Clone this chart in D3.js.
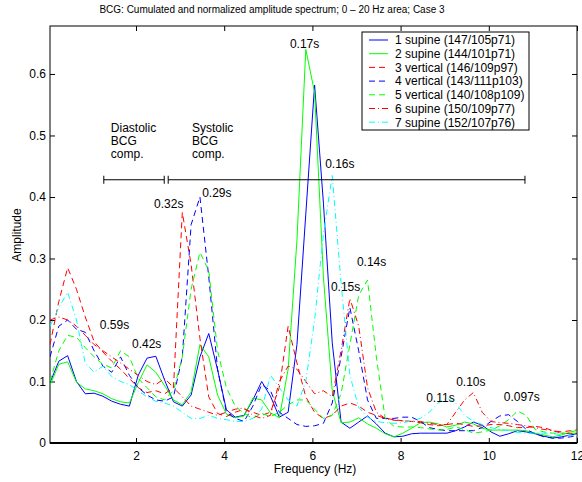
<!DOCTYPE html>
<html>
<head>
<meta charset="utf-8">
<script src="https://cdn.jsdelivr.net/npm/d3@7"></script>
<style>
  body { margin: 0; background: #fff; }
  svg { font-family: "Liberation Sans", Arial, Helvetica, sans-serif; }
  .axis path, .axis line { stroke: #000; }
  .axis text { font-size: 12px; fill: #000; }
</style>
</head>
<body>
<div id="chart"></div>
<script>
// frequency grid (Hz)
const freq = [0.05, 0.25, 0.45, 0.65, 0.85, 1.05, 1.25, 1.45, 1.65, 1.85,
  2.05, 2.25, 2.45, 2.65, 2.85, 3.05, 3.25, 3.45, 3.65, 3.85,
  4.05, 4.25, 4.45, 4.65, 4.85, 5.05, 5.25, 5.45, 5.65, 5.85,
  6.05, 6.25, 6.45, 6.65, 6.85, 7.05, 7.25, 7.45, 7.65, 7.85,
  8.05, 8.25, 8.45, 8.65, 8.85, 9.05, 9.25, 9.45, 9.65, 9.85,
  10.05, 10.25, 10.45, 10.65, 10.85, 11.05, 11.25, 11.45, 11.65, 11.85, 12.05];

const supine1 = [0.098, 0.133, 0.142, 0.10, 0.08, 0.081, 0.076, 0.068, 0.063, 0.06,
  0.11, 0.138, 0.141, 0.102, 0.067, 0.06, 0.078, 0.14, 0.178, 0.119,
  0.054, 0.042, 0.045, 0.07, 0.10, 0.076, 0.042, 0.05, 0.16, 0.372,
  0.582, 0.39, 0.163, 0.034, 0.024, 0.034, 0.044, 0.031, 0.016, 0.01,
  0.011, 0.015, 0.016, 0.016, 0.016, 0.016, 0.02, 0.026, 0.034, 0.029,
  0.018, 0.011, 0.015, 0.02, 0.018, 0.015, 0.011, 0.008, 0.01, 0.013, 0.016];
const supine2 = [0.094, 0.128, 0.132, 0.099, 0.088, 0.085, 0.08, 0.072, 0.067, 0.065,
  0.098, 0.127, 0.115, 0.093, 0.07, 0.062, 0.083, 0.16, 0.14, 0.078,
  0.047, 0.041, 0.044, 0.073, 0.07, 0.049, 0.041, 0.12, 0.33, 0.64,
  0.57, 0.27, 0.085, 0.033, 0.034, 0.041, 0.031, 0.024, 0.015, 0.01,
  0.016, 0.024, 0.033, 0.034, 0.031, 0.026, 0.029, 0.034, 0.031, 0.024,
  0.021, 0.021, 0.021, 0.021, 0.02, 0.016, 0.013, 0.01, 0.013, 0.018, 0.021];
const vertical3 = [0.16, 0.23, 0.285, 0.25, 0.205, 0.165, 0.148, 0.133, 0.12, 0.105,
  0.09, 0.082, 0.085, 0.08, 0.09, 0.375, 0.29, 0.17, 0.075, 0.048,
  0.043, 0.05, 0.055, 0.05, 0.045, 0.05, 0.09, 0.19, 0.13, 0.075,
  0.05, 0.04, 0.045, 0.06, 0.065, 0.06, 0.05, 0.045, 0.04, 0.038,
  0.036, 0.035, 0.033, 0.03, 0.028, 0.03, 0.032, 0.03, 0.027, 0.028,
  0.03, 0.03, 0.028, 0.025, 0.025, 0.027, 0.025, 0.02, 0.018, 0.02, 0.022];
const vertical4 = [0.14, 0.19, 0.2, 0.185, 0.18, 0.15, 0.125, 0.115, 0.14, 0.11,
  0.09, 0.078, 0.07, 0.068, 0.075, 0.14, 0.355, 0.40, 0.27, 0.12,
  0.05, 0.04, 0.035, 0.06, 0.095, 0.085, 0.05, 0.04, 0.03, 0.027,
  0.028, 0.032, 0.065, 0.14, 0.22, 0.15, 0.07, 0.04, 0.04, 0.04,
  0.042, 0.042, 0.035, 0.025, 0.022, 0.02, 0.02, 0.02, 0.02, 0.025,
  0.035, 0.044, 0.046, 0.035, 0.022, 0.015, 0.01, 0.008, 0.008, 0.01, 0.013];
const vertical5 = [0.1, 0.15, 0.175, 0.172, 0.155, 0.14, 0.128, 0.122, 0.15, 0.14,
  0.105, 0.09, 0.075, 0.07, 0.085, 0.14, 0.25, 0.31, 0.28, 0.15,
  0.09, 0.06, 0.048, 0.04, 0.048, 0.043, 0.05, 0.062, 0.07, 0.07,
  0.055, 0.04, 0.045, 0.08, 0.16, 0.24, 0.265, 0.14, 0.04, 0.027,
  0.026, 0.026, 0.025, 0.023, 0.021, 0.022, 0.026, 0.022, 0.016, 0.018,
  0.021, 0.028, 0.038, 0.052, 0.045, 0.022, 0.018, 0.016, 0.016, 0.016, 0.016];
const supine6 = [0.2, 0.205, 0.2, 0.19, 0.175, 0.16, 0.15, 0.14, 0.13, 0.12,
  0.11, 0.1, 0.095, 0.105, 0.09, 0.075, 0.06, 0.055, 0.05, 0.045,
  0.05, 0.055, 0.057, 0.045, 0.04, 0.045, 0.1, 0.125, 0.12, 0.1,
  0.08, 0.085, 0.075, 0.15, 0.235, 0.19, 0.09, 0.05, 0.04, 0.037,
  0.036, 0.035, 0.035, 0.032, 0.03, 0.03, 0.05, 0.07, 0.082, 0.05,
  0.035, 0.033, 0.032, 0.03, 0.028, 0.025, 0.022, 0.02, 0.016, 0.015, 0.016];
const supine7 = [0.19, 0.22, 0.245, 0.2, 0.13, 0.115, 0.125, 0.108, 0.1, 0.095,
  0.085, 0.075, 0.068, 0.065, 0.06, 0.05, 0.04, 0.04, 0.045, 0.04,
  0.038, 0.035, 0.035, 0.04, 0.055, 0.11, 0.09, 0.07, 0.06, 0.1,
  0.2, 0.34, 0.435, 0.26, 0.11, 0.058, 0.042, 0.035, 0.033, 0.032,
  0.033, 0.036, 0.04, 0.05, 0.065, 0.073, 0.065, 0.045, 0.035, 0.03,
  0.025, 0.022, 0.02, 0.017, 0.016, 0.016, 0.016, 0.015, 0.014, 0.012, 0.012];

const seriesNames = ['1 supine (147/105p71)', '2 supine (144/101p71)', '3 vertical (146/109p97)',
  '4 vertical (143/111p103)', '5 vertical (140/108p109)', '6 supine (150/109p77)', '7 supine (152/107p76)'];
const seriesValues = [supine1, supine2, vertical3, vertical4, vertical5, supine6, supine7];
const seriesColors = ['#0000ff', '#00ff00', '#ff0000', '#0000ff', '#00ff00', '#ff0000', '#00ffff'];
const seriesDash = [null, null, '6,4', '6,4', '6,4', '6,3,1,3', '6,3,1,3'];

const xTicks = [2, 4, 6, 8, 10, 12];
const yTicks = [0, 0.1, 0.2, 0.3, 0.4, 0.5, 0.6];

// peak period labels [text, freq, amplitude]
const peakLabels = [['0.17s', 5.49, 0.642], ['0.16s', 6.29, 0.447], ['0.32s', 2.41, 0.382],
  ['0.29s', 3.50, 0.40], ['0.59s', 1.18, 0.185], ['0.42s', 1.91, 0.154], ['0.14s', 7.01, 0.288],
  ['0.15s', 6.42, 0.247], ['0.10s', 9.26, 0.093], ['0.11s', 8.58, 0.067], ['0.097s', 10.34, 0.068]];
const compRanges = [[1.27, 2.64], [2.73, 10.82]];
const compLevel = 0.428;
const compTexts = [[['Diastolic', 'BCG', 'comp.'], 1.43], [['Systolic', 'BCG', 'comp.'], 3.27]];

const W = 582, H = 482;
const m = { left: 50, right: 5, top: 26, bottom: 39 };

const svg = d3.select('#chart').append('svg')
  .attr('width', W)
  .attr('height', H);

const x = d3.scaleLinear().domain([0.05, 12]).range([m.left, W - m.right]);
const y = d3.scaleLinear().domain([0, 0.678]).range([H - m.bottom, m.top]);

svg.append('defs').append('clipPath').attr('id', 'clip')
  .append('rect')
  .attr('x', m.left).attr('y', m.top)
  .attr('width', W - m.left - m.right).attr('height', H - m.top - m.bottom);

// axes
svg.append('g').attr('class', 'axis')
  .attr('transform', `translate(0,${H - m.bottom})`)
  .call(d3.axisBottom(x).tickValues(xTicks).tickSize(-5).tickPadding(8).tickFormat(d3.format('d')));
svg.append('g').attr('class', 'axis')
  .attr('transform', `translate(0,${m.top})`)
  .call(d3.axisTop(x).tickValues(xTicks).tickSize(-5).tickFormat(''));
svg.append('g').attr('class', 'axis')
  .attr('transform', `translate(${m.left},0)`)
  .call(d3.axisLeft(y).tickValues(yTicks).tickSize(-5).tickPadding(4).tickFormat(d => d === 0 ? '0' : d3.format('.1f')(d)));
svg.append('g').attr('class', 'axis')
  .attr('transform', `translate(${W - m.right},0)`)
  .call(d3.axisRight(y).tickValues(yTicks).tickSize(-5).tickFormat(''));

svg.selectAll('.axis .domain').remove();
svg.append('rect')
  .attr('x', m.left).attr('y', m.top)
  .attr('width', W - m.left - m.right).attr('height', H - m.top - m.bottom)
  .attr('fill', 'none').attr('stroke', '#000');
svg.append('line')
  .attr('x1', m.left).attr('x2', W - m.right)
  .attr('y1', H - m.bottom).attr('y2', H - m.bottom)
  .attr('stroke', '#000').attr('stroke-width', 2);

// lines
const line = d3.line()
  .x((d, i) => x(freq[i]))
  .y(d => y(d));

svg.append('g').attr('clip-path', 'url(#clip)')
  .selectAll('path')
  .data(seriesValues)
  .enter()
  .append('path')
  .attr('d', d => line(d))
  .attr('fill', 'none')
  .attr('stroke', (d, i) => seriesColors[i])
  .attr('stroke-width', 1)
  .attr('stroke-dasharray', (d, i) => seriesDash[i]);

// component range bars
const comp = svg.append('g').attr('stroke', '#000').attr('stroke-width', 1);
compRanges.forEach(r => {
  comp.append('line').attr('x1', x(r[0])).attr('x2', x(r[1])).attr('y1', y(compLevel)).attr('y2', y(compLevel));
  r.forEach(v => comp.append('line').attr('x1', x(v)).attr('x2', x(v))
    .attr('y1', y(compLevel) - 4).attr('y2', y(compLevel) + 4));
});

compTexts.forEach(c => {
  const t = svg.append('text')
    .attr('x', x(c[1]))
    .attr('y', y(0.485))
    .attr('font-size', '12px');
  c[0].forEach((s, i) => t.append('tspan')
    .attr('x', x(c[1]))
    .attr('dy', i === 0 ? -13 : 13)
    .text(s));
});

svg.append('g').selectAll('text')
  .data(peakLabels)
  .enter()
  .append('text')
  .attr('x', d => x(d[1]))
  .attr('y', d => y(d[2]))
  .attr('font-size', '12px')
  .text(d => d[0]);

// legend
const lg = svg.append('g').attr('transform', 'translate(362,32)');
lg.append('rect')
  .attr('width', 167).attr('height', 98)
  .attr('fill', '#fff').attr('stroke', '#000');
seriesNames.forEach((name, i) => {
  const ly = 8 + i * 13.7;
  lg.append('line')
    .attr('x1', 7).attr('x2', 26)
    .attr('y1', ly).attr('y2', ly)
    .attr('stroke', seriesColors[i])
    .attr('stroke-dasharray', seriesDash[i]);
  lg.append('text')
    .attr('x', 33).attr('y', ly + 4.3)
    .attr('font-size', '12px')
    .text(name);
});

// title and axis labels
svg.append('text')
  .attr('x', 272).attr('y', 13)
  .attr('text-anchor', 'middle')
  .attr('font-size', '10px')
  .text('BCG: Cumulated and normalized amplitude spectrum; 0 \u2013 20 Hz area; Case 3');

svg.append('text')
  .attr('x', 315).attr('y', 473)
  .attr('text-anchor', 'middle')
  .attr('font-size', '12px')
  .text('Frequency (Hz)');

svg.append('text')
  .attr('transform', 'translate(21,235) rotate(-90)')
  .attr('text-anchor', 'middle')
  .attr('font-size', '12px')
  .text('Amplitude');
</script>
</body>
</html>
